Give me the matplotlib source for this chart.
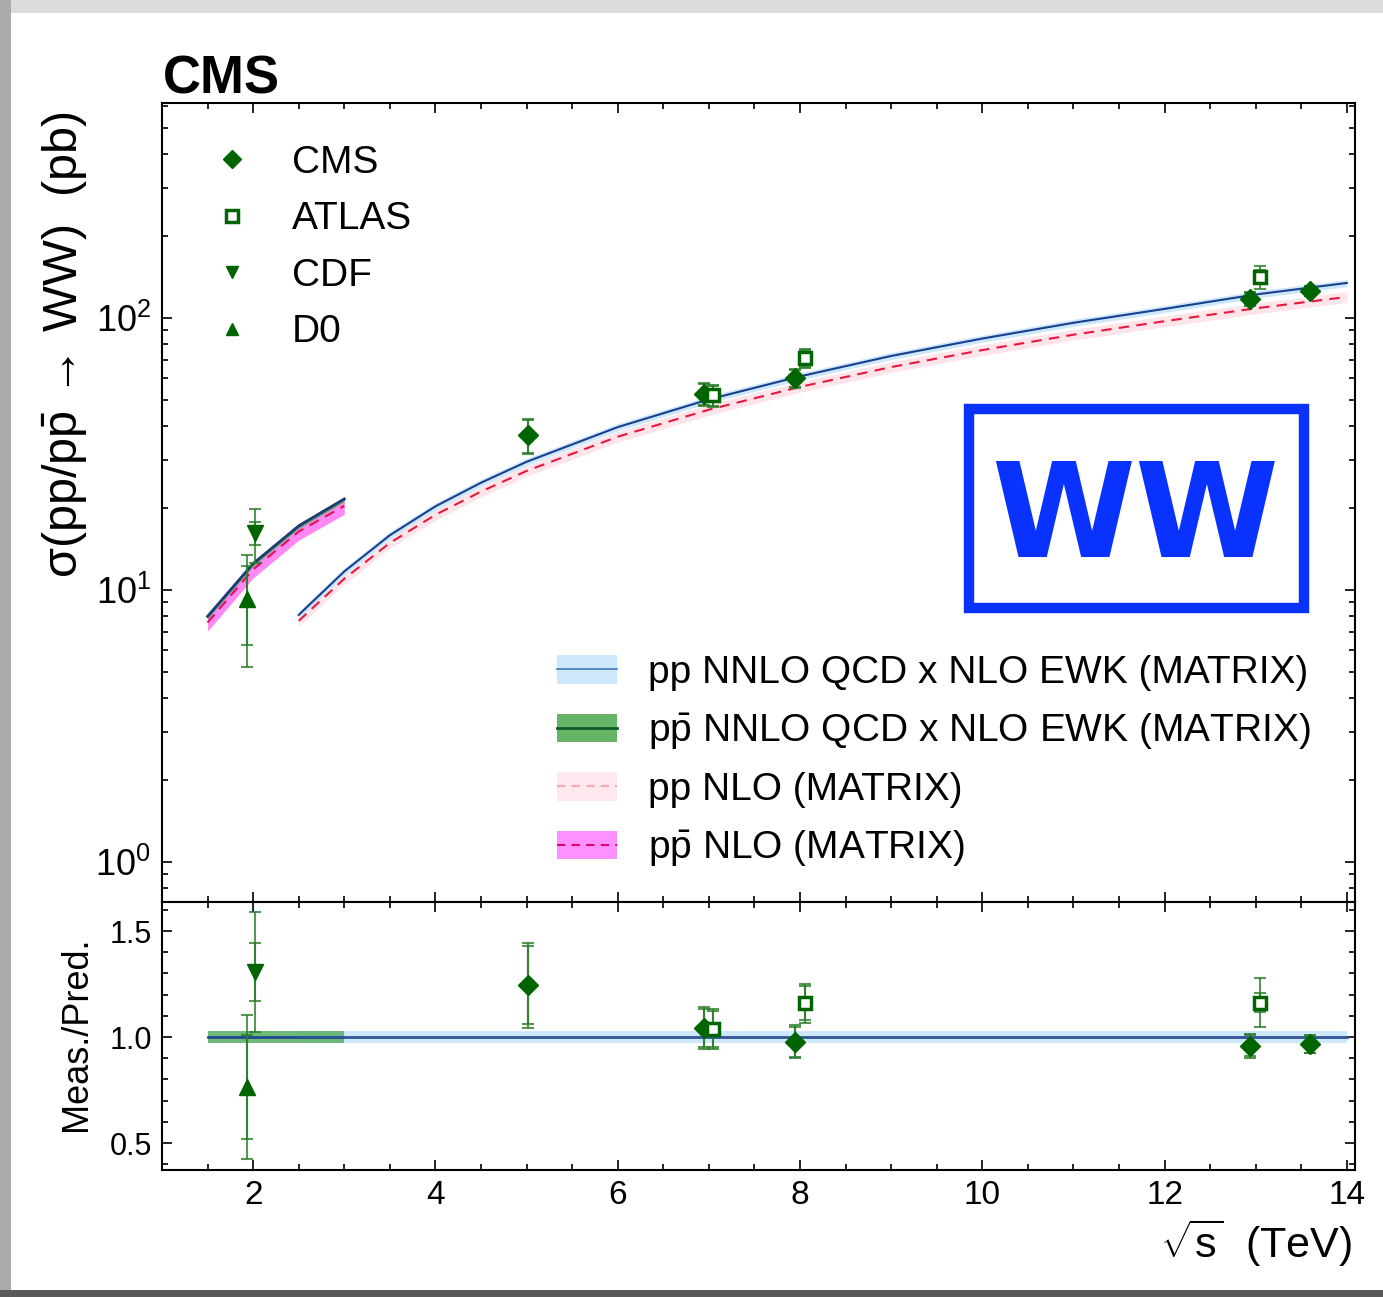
import numpy as np
import matplotlib
matplotlib.use("Agg")
import matplotlib.pyplot as plt
from matplotlib.patches import Rectangle, Patch
from matplotlib.lines import Line2D
from matplotlib.ticker import LogLocator, MultipleLocator, NullFormatter

plt.rcParams['font.family'] = ['Liberation Sans', 'DejaVu Sans']
plt.rcParams['mathtext.fontset'] = 'custom'
plt.rcParams['mathtext.rm'] = 'Liberation Sans'
plt.rcParams['mathtext.it'] = 'Liberation Sans:italic'
plt.rcParams['mathtext.bf'] = 'Liberation Sans:bold'
plt.rcParams['mathtext.sf'] = 'Liberation Sans'

# ---------------- data ----------------
# measurements (main panel, pb)
cms_x = [5.02, 6.95, 7.95, 12.94, 13.6]
cms_y = [37.0, 52.4, 60.1, 117.6, 125.7]
cms_tot = [5.5, 5.1, 4.8, 6.8, 5.6]
cms_stat = [5.1, 4.6, 4.4, 6.3, 5.2]

atlas_x = [7.05, 8.05, 13.05]
atlas_y = [51.9, 71.1, 141.6]
atlas_tot = [4.8, 5.6, 14.0]
atlas_stat = [4.3, 5.0, 8.0]

cdf_x = [2.02]
cdf_y = [16.2]
cdf_tot = [3.6]
cdf_stat = [1.6]

d0_x = [1.93]
d0_y = [9.3]
d0_tot = [4.1]
d0_stat = [3.0]

# ratio panel (meas./pred.)
cms_r = [1.245, 1.044, 0.978, 0.959, 0.967]
cms_r_tot = [0.20, 0.10, 0.078, 0.056, 0.043]
cms_r_stat = [0.185, 0.09, 0.07, 0.05, 0.04]
atlas_r = [1.038, 1.16, 1.162]
atlas_r_tot = [0.096, 0.092, 0.115]
atlas_r_stat = [0.085, 0.08, 0.045]
cdf_r = [1.307]
cdf_r_tot = [0.285]
cdf_r_stat = [0.137]
d0_r = [0.764]
d0_r_tot = [0.34]
d0_r_stat = [0.245]

# theory predictions (pb)
pp_sqrts = [2.5, 3.0, 3.5, 4.0, 4.5, 5.0, 6.0, 7.0, 8.0, 9.0, 10.0, 11.0, 12.0, 13.0, 14.0]
pp_nnlo = [8.1, 11.7, 15.9, 20.3, 24.8, 29.6, 39.7, 50.2, 61.0, 72.5, 84.0, 96.0, 108.0, 122.0, 134.5]
pp_nlo = [7.7, 11.0, 14.9, 18.9, 23.0, 27.4, 36.6, 46.0, 55.8, 66.0, 76.2, 86.8, 97.3, 108.5, 119.5]
ppbar_sqrts = [1.5, 2.0, 2.5, 3.0]
ppbar_nnlo = [8.0, 12.5, 17.2, 21.6]
ppbar_nlo = [7.6, 11.9, 16.4, 20.4]

# relative theory uncertainties
pp_nnlo_unc = 0.03
pp_nlo_unc = 0.045
ppbar_nnlo_unc = 0.02
ppbar_nlo_unc = 0.07
ratio_pp_unc = 0.03
ratio_ppbar_unc = 0.028

# ---------------- style ----------------
data_color = '#006400'
err_color = '#2a7d2a'
c_pp_nnlo_band = '#cce8fa'
c_pp_nnlo_line = '#1a3f8f'
c_pp_nlo_band = '#ffe4ea'
c_pp_nlo_line = '#e8183c'
c_ppbar_nnlo_band = '#5aaa5a'
c_ppbar_nnlo_line = '#1d3b7a'
c_ppbar_nlo_band = '#ff88f4'
c_ppbar_nlo_line = '#e0105a'
logo_color = '#0a32ff'

fig = plt.figure(figsize=(13.83, 12.97), dpi=100)

# frame shadow around the picture
fig.patches.append(Rectangle((0, 1 - 13 / 1297), 1, 13 / 1297, transform=fig.transFigure,
                             fc='#dcdcdc', ec='none', zorder=-10))
fig.patches.append(Rectangle((0, 0), 11 / 1383, 1, transform=fig.transFigure,
                             fc='#ababab', ec='none', zorder=-10))
fig.patches.append(Rectangle((0, 0), 1, 7 / 1297, transform=fig.transFigure,
                             fc='#5a5a5a', ec='none', zorder=-10))

left = 162 / 1383
width = (1355 - 162) / 1383
ax = fig.add_axes([left, 1 - 902 / 1297, width, (902 - 103) / 1297])
rax = fig.add_axes([left, 1 - 1170 / 1297, width, (1170 - 902) / 1297], sharex=ax)

# ---------- main panel ----------
pn = np.array(pp_nnlo)
pl = np.array(pp_nlo)
bn = np.array(ppbar_nnlo)
bl = np.array(ppbar_nlo)

ax.fill_between(pp_sqrts, pl * (1 - pp_nlo_unc), pl * (1 + pp_nlo_unc), color=c_pp_nlo_band, lw=0, zorder=1)
ax.fill_between(pp_sqrts, pn * (1 - pp_nnlo_unc), pn * (1 + pp_nnlo_unc), color=c_pp_nnlo_band, lw=0, zorder=1.5)
ax.plot(pp_sqrts, pl, color=c_pp_nlo_line, lw=1.5, dashes=(5, 3.5), zorder=2)
ax.plot(pp_sqrts, pn, color=c_pp_nnlo_line, lw=1.5, zorder=2.5)

ax.fill_between(ppbar_sqrts, bl * (1 - ppbar_nlo_unc), bl * (1 + ppbar_nlo_unc), color=c_ppbar_nlo_band, lw=0, zorder=1)
ax.fill_between(ppbar_sqrts, bn * (1 - ppbar_nnlo_unc), bn * (1 + ppbar_nnlo_unc), color=c_ppbar_nnlo_band, lw=0, zorder=1.5)
ax.plot(ppbar_sqrts, bl, color=c_ppbar_nlo_line, lw=1.5, dashes=(5, 3.5), zorder=2)
ax.plot(ppbar_sqrts, bn, color=c_ppbar_nnlo_line, lw=2.0, zorder=2.5)


def draw_points(a, x, y, tot, stat, marker, ms, mfc, mew, label=None):
    a.errorbar(x, y, yerr=tot, fmt='none', ecolor=err_color, elinewidth=1.5,
               capsize=4, capthick=1.5, alpha=0.8, zorder=5)
    a.errorbar(x, y, yerr=stat, fmt='none', ecolor=err_color, elinewidth=1.5,
               capsize=4, capthick=1.5, alpha=0.8, zorder=5)
    h, = a.plot(x, y, linestyle='none', marker=marker, ms=ms, mfc=mfc,
                mec=data_color, mew=mew, zorder=6, label=label)
    return h


h_cms = draw_points(ax, cms_x, cms_y, cms_tot, cms_stat, 'D', 10.5, data_color, 1, 'CMS')
h_atlas = draw_points(ax, atlas_x, atlas_y, atlas_tot, atlas_stat, 's', 9, 'white', 2.5, 'ATLAS')
h_cdf = draw_points(ax, cdf_x, cdf_y, cdf_tot, cdf_stat, 'v', 11, data_color, 1, 'CDF')
h_d0 = draw_points(ax, d0_x, d0_y, d0_tot, d0_stat, '^', 11, data_color, 1, 'D0')

ax.set_yscale('log')
ax.set_ylim(0.713, 617)
ax.set_xlim(1.0, 14.09)
ax.yaxis.set_major_locator(LogLocator(base=10, numticks=10))
ax.yaxis.set_minor_locator(LogLocator(base=10, subs=np.arange(2, 10), numticks=20))
ax.yaxis.set_minor_formatter(NullFormatter())

ax.set_ylabel('σ(pp/p$\\bar{\\mathrm{p}}$$\\,\\rightarrow\\,$WW)  (pb)', fontsize=35,
              ha='center', va='center')
ax.yaxis.set_label_coords(-0.081, 0.698)

ax.text(0.001, 1.0125, 'CMS', transform=ax.transAxes, fontsize=38, fontweight='bold',
        ha='left', va='baseline')

# WW logo
ax.add_patch(Rectangle((0.6765, 0.368), 0.2808, 0.249, transform=ax.transAxes,
                       fill=False, ec=logo_color, lw=7.5, zorder=3))
ax.text(0.8156, 0.4318, 'WW', transform=ax.transAxes, fontsize=94, fontweight='bold',
        family='DejaVu Sans', color=logo_color, ha='center', va='baseline', zorder=3)

leg1 = ax.legend(handles=[h_cms, h_atlas, h_cdf, h_d0], loc='upper left',
                 bbox_to_anchor=(0.0423, 0.948), frameon=False, fontsize=28,
                 handlelength=1.0, handletextpad=1.04, labelspacing=0.53,
                 borderpad=0, borderaxespad=0, numpoints=1)
for lh in leg1.legend_handles:
    lh.set_markersize(9)
ax.add_artist(leg1)

leg_handles = [
    (Patch(fc=c_pp_nnlo_band, ec='none'), Line2D([], [], color='#3d7ab8', lw=1.2)),
    (Patch(fc='#66b466', ec='none'), Line2D([], [], color='#0b5a2a', lw=2)),
    (Patch(fc='#ffe8ee', ec='none'), Line2D([], [], color='#f4a8b8', lw=1.5, dashes=(4, 3))),
    (Patch(fc='#ff90ff', ec='none'), Line2D([], [], color='#e0006e', lw=1.5, dashes=(4, 3))),
]
leg_labels = ['pp NNLO QCD x NLO EWK (MATRIX)',
              'p$\\bar{\\mathrm{p}}$ NNLO QCD x NLO EWK (MATRIX)',
              'pp NLO (MATRIX)',
              'p$\\bar{\\mathrm{p}}$ NLO (MATRIX)']
ax.legend(leg_handles, leg_labels, loc='upper left', bbox_to_anchor=(0.331, 0.309),
          frameon=False, fontsize=28, handlelength=1.54, handleheight=0.75,
          handletextpad=0.8, labelspacing=0.52, borderpad=0, borderaxespad=0)

# ---------- ratio panel ----------
rax.fill_between(pp_sqrts, [1 - ratio_pp_unc] * len(pp_sqrts), [1 + ratio_pp_unc] * len(pp_sqrts),
                 color=c_pp_nnlo_band, lw=0, zorder=1)
rax.fill_between(ppbar_sqrts, [1 - ratio_ppbar_unc] * len(ppbar_sqrts),
                 [1 + ratio_ppbar_unc] * len(ppbar_sqrts),
                 color='#5fb36a', alpha=0.9, lw=0, zorder=1.5)
rax.plot(ppbar_sqrts, [1.0] * len(ppbar_sqrts), color='#24488f', lw=2, zorder=2)
rax.plot(pp_sqrts, [1.0] * len(pp_sqrts), color='#2f5597', lw=2, zorder=2)

draw_points(rax, cms_x, cms_r, cms_r_tot, cms_r_stat, 'D', 10.5, data_color, 1)
draw_points(rax, atlas_x, atlas_r, atlas_r_tot, atlas_r_stat, 's', 9, 'white', 2.5)
draw_points(rax, cdf_x, cdf_r, cdf_r_tot, cdf_r_stat, 'v', 11, data_color, 1)
draw_points(rax, d0_x, d0_r, d0_r_tot, d0_r_stat, '^', 11, data_color, 1)

rax.set_ylim(0.373, 1.637)
rax.yaxis.set_major_locator(MultipleLocator(0.5))
rax.yaxis.set_minor_locator(MultipleLocator(0.1))
rax.xaxis.set_major_locator(MultipleLocator(2))
rax.xaxis.set_minor_locator(MultipleLocator(0.5))
rax.set_ylabel('Meas./Pred.', fontsize=26, ha='center', va='center')
rax.yaxis.set_label_coords(-0.072, 0.507)
rax.set_xlabel('$\\sqrt{\\mathrm{s}}$  (TeV)', fontsize=31, ha='right', va='center')
rax.xaxis.set_label_coords(0.9975, -0.272)

for a in (ax, rax):
    a.tick_params(which='both', direction='in', top=True, right=True, width=1.2)
    a.tick_params(which='major', length=7.5)
    a.tick_params(which='minor', length=4)
    for s in a.spines.values():
        s.set_linewidth(1.5)
ax.tick_params(labelbottom=False, labelsize=26, pad=8)
rax.tick_params(axis='x', labelsize=24, pad=7)
rax.tick_params(axis='y', labelsize=22, pad=7)

fig.savefig('out.png', dpi=100)
